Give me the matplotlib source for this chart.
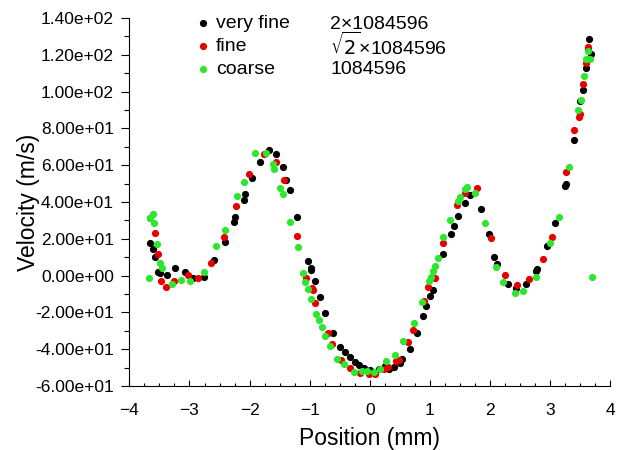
import numpy as np
import matplotlib
matplotlib.use("Agg")
import matplotlib.pyplot as plt
from matplotlib.ticker import MultipleLocator, FormatStrFormatter

plt.rcParams['font.family'] = ['Liberation Sans', 'DejaVu Sans']

# position (mm) and velocity (m/s) for the three meshes
x_vfine = [-3.664, -3.611, -3.577, -3.531, -3.486, -3.378, -3.233, -3.075, -2.942, -2.759,
           -2.591, -2.416, -2.266, -2.238, -2.100, -2.068, -1.960, -1.834, -1.672, -1.561,
           -1.444, -1.386, -1.334, -1.211, -1.028, -0.982, -0.970, -0.918, -0.832, -0.740,
           -0.612, -0.491, -0.408, -0.324, -0.241, -0.186, -0.103, 0.008, 0.146, 0.258,
           0.313, 0.408, 0.496, 0.544, 0.662, 0.785, 0.879, 0.932, 1.002, 1.052,
           1.215, 1.351, 1.409, 1.468, 1.577, 1.672, 1.852, 1.983, 2.075, 2.116,
           2.293, 2.433, 2.599, 2.765, 2.782, 2.948, 3.087, 3.248, 3.258, 3.398,
           3.491, 3.552, 3.597, 3.624, 3.647, 3.681]
v_vfine = [17.8, 14.5, 9.9, 1.9, 1.2, 0.4, 4.2, 2.2, -1.0, -0.5,
           8.3, 18.3, 29.2, 31.8, 41.2, 44.6, 53.0, 61.7, 68.2, 65.9,
           59.1, 52.2, 46.3, 32.1, 8.1, 4.3, 3.2, -2.8, -11.4, -20.1,
           -31.3, -38.6, -41.5, -44.0, -46.8, -48.6, -50.0, -51.4, -50.9, -49.1,
           -50.5, -49.4, -47.3, -45.2, -39.7, -31.0, -21.9, -16.7, -10.8, -7.8,
           11.9, 22.8, 27.2, 32.3, 39.3, 44.1, 36.3, 22.6, 10.3, 6.3,
           -4.6, -6.8, -4.4, 2.3, 3.6, 16.1, 28.7, 48.6, 49.9, 73.9,
           94.8, 100.8, 113.1, 122.9, 128.4, 120.2]

x_fine = [-3.652, -3.569, -3.532, -3.473, -3.394, -3.258, -3.020, -2.854, -2.637, -2.433,
          -2.221, -2.002, -1.767, -1.561, -1.431, -1.210, -1.053, -0.962, -0.948, -0.907,
          -0.696, -0.629, -0.479, -0.324, -0.158, -0.020, 0.092, 0.230, 0.308, 0.433,
          0.479, 0.629, 0.724, 0.895, 0.965, 1.077, 1.223, 1.451, 1.577, 1.784,
          2.022, 2.243, 2.449, 2.654, 2.875, 3.037, 3.270, 3.398, 3.478, 3.494,
          3.552, 3.597, 3.636]
v_fine = [31.3, 23.2, 11.8, -2.8, -6.4, -2.8, 0.5, -1.0, 6.8, 20.9,
          37.7, 55.1, 66.3, 61.5, 51.9, 21.3, -1.3, -6.6, -7.7, -14.8,
          -31.0, -36.9, -46.0, -50.0, -52.8, -53.6, -53.3, -50.9, -49.6, -46.6,
          -45.9, -36.0, -29.5, -13.7, -6.3, -1.3, 17.8, 38.3, 44.8, 47.5,
          20.3, 0.5, -5.0, -1.7, 9.2, 21.0, 56.2, 79.3, 86.3, 88.0,
          103.9, 115.3, 124.4]

x_coarse = [-3.669, -3.652, -3.614, -3.586, -3.544, -3.498, -3.456, -3.299, -3.136, -2.995,
            -2.754, -2.551, -2.408, -2.201, -2.088, -1.905, -1.735, -1.614, -1.589, -1.489,
            -1.448, -1.323, -1.195, -1.111, -1.070, -1.027, -0.978, -0.890, -0.852, -0.795,
            -0.740, -0.657, -0.546, -0.424, -0.270, -0.130, -0.047, 0.063, 0.163, 0.270,
            0.424, 0.552, 0.729, 0.865, 0.990, 1.018, 1.045, 1.078, 1.128, 1.218,
            1.339, 1.468, 1.494, 1.577, 1.622, 1.755, 1.910, 2.105, 2.216, 2.421,
            2.549, 2.770, 3.003, 3.153, 3.314, 3.469, 3.514, 3.557, 3.597, 3.631,
            3.669, 3.691]
v_coarse = [-1.0, 31.2, 33.6, 28.6, 17.3, 6.8, 4.3, -4.4, -2.3, -2.8,
            1.9, 15.9, 25.0, 43.2, 50.8, 66.8, 66.8, 60.8, 57.7, 47.5,
            44.6, 29.1, 15.4, 1.4, -3.7, -7.5, -12.5, -20.6, -24.2, -27.8,
            -32.7, -38.2, -45.1, -48.2, -52.4, -51.8, -51.8, -52.2, -50.6, -46.4,
            -43.1, -35.5, -25.8, -14.5, -2.8, -0.6, 2.3, 5.1, 9.6, 21.0,
            30.4, 40.5, 42.5, 47.0, 48.1, 44.8, 28.7, 4.5, -3.2, -9.2,
            -8.6, -0.6, 17.5, 31.7, 58.8, 90.2, 95.3, 108.4, 117.7, 122.2,
            117.5, -0.8]

labels = ['very fine', 'fine', 'coarse']
cells = ['2×1084596', r'$\sqrt{2}$×1084596', '1084596']
colors = ['black', '#e60000', '#2ee62e']

fig = plt.figure(figsize=(6.22, 4.5), dpi=100)
ax = fig.add_axes([0.208, 0.142, 0.773, 0.818])

series = [(x_vfine, v_vfine), (x_fine, v_fine), (x_coarse, v_coarse)]
handles = []
for (xs, vs), c, lab in zip(series, colors, labels):
    h = ax.scatter(xs, vs, s=27, color=c, linewidths=0, label=lab, zorder=3)
    handles.append(h)

ax.set_xlim(-4, 4)
ax.set_ylim(-60, 140)
ax.xaxis.set_major_locator(MultipleLocator(1))
ax.xaxis.set_minor_locator(MultipleLocator(0.25))
ax.yaxis.set_major_locator(MultipleLocator(20))
ax.yaxis.set_minor_locator(MultipleLocator(10))
ax.yaxis.set_major_formatter(FormatStrFormatter('%.2e'))

for s in ['top', 'right']:
    ax.spines[s].set_visible(False)
ax.spines['left'].set_linewidth(0.8)
ax.spines['bottom'].set_linewidth(0.8)

ax.tick_params(axis='y', which='major', direction='out', length=6, width=0.8, labelsize=12.5, pad=5)
ax.tick_params(axis='y', which='minor', direction='out', length=3.5, width=0.8)
ax.tick_params(axis='x', which='major', direction='in', length=4, width=0.8, labelsize=12.5, pad=12)
ax.tick_params(axis='x', which='minor', direction='in', length=2, width=0.8)

ax.set_xlabel('Position (mm)', fontsize=16.5, labelpad=7)
ax.set_ylabel('Velocity (m/s)', fontsize=16.5, labelpad=-3)

leg = ax.legend(handles=handles, loc='upper left', bbox_to_anchor=(0.142, 1.01),
                frameon=False, fontsize=14, handlelength=0.6, handletextpad=0.33,
                labelspacing=0.28, borderpad=0, borderaxespad=0, scatterpoints=1)

rows = [0.983, 0.925, 0.861]
for t, yy in zip(cells, rows):
    ax.text(0.4175, yy, t, transform=ax.transAxes, fontsize=14, va='center', ha='left')

fig.savefig('out.png', dpi=100)
